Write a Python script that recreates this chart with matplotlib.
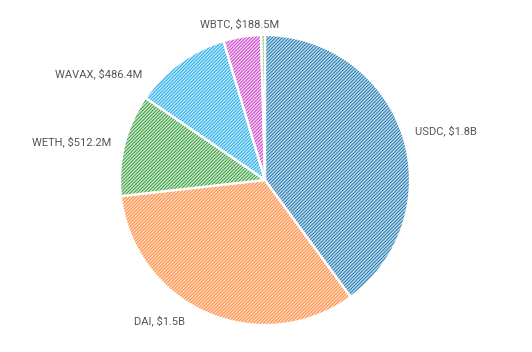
import matplotlib
matplotlib.use("Agg")
import matplotlib.pyplot as plt
import numpy as np

categories = ["USDC", "DAI", "WETH", "WAVAX", "WBTC", "Other"]
values = [1.8e9, 1.5e9, 512.2e6, 486.4e6, 188.5e6, 20e6]
value_labels = ["$1.8B", "$1.5B", "$512.2M", "$486.4M", "$188.5M", ""]
face_colors = ["#b5dcf2", "#ffd9c0", "#c3edc6", "#bdeafc", "#f8cdf3", "#c9eab0"]
hatch_colors = ["#26709f", "#ff8533", "#3c8f40", "#1aa3e6", "#c23fc2", "#6cbf3c"]
# label placement tweaks (angle shift in degrees, radial distance)
label_shift = [0, -6, 0, 13, 0, 0]
label_dist = [1.09, 1.12, 1.09, 1.12, 1.09, 1.09]

plt.rcParams['font.family'] = ['Roboto', 'DejaVu Sans']
plt.rcParams['hatch.linewidth'] = 0.65

fig = plt.figure(figsize=(5.32, 3.52), dpi=100)
ax = fig.add_axes([0, 0, 1, 1])
R = 145.0
ax.axis('off')

labels = [f"{c}, {v}" if v else "" for c, v in zip(categories, value_labels)]

# hatched fill layer
wedges, _ = ax.pie(values, startangle=90, counterclock=False, radius=1,
                   colors=face_colors, center=(0, 0), frame=False)
for w, hc in zip(wedges, hatch_colors):
    w.set_hatch('//////////')
    w.set_edgecolor(hc)
    w.set_linewidth(0)

# white outline layer
wedges2, _ = ax.pie(values, startangle=90, counterclock=False, radius=1,
                    center=(0, 0), frame=False,
                    wedgeprops=dict(facecolor='none', edgecolor='white',
                                    linewidth=1.6))

for w, lab, sh, d in zip(wedges, labels, label_shift, label_dist):
    if not lab:
        continue
    ang = np.deg2rad((w.theta1 + w.theta2) / 2 + sh)
    x, y = d * np.cos(ang), d * np.sin(ang)
    if abs(x) < 0.2:
        ha = 'center'
    else:
        ha = 'left' if x > 0 else 'right'
    ax.text(x, y, lab, ha=ha, va='center', fontsize=8, color='#555555')

ax.set_xlim(-265 / R, (532 - 265) / R)
ax.set_ylim(-172 / R, 180 / R)
ax.set_aspect('auto')

fig.savefig("out.png", dpi=100)
